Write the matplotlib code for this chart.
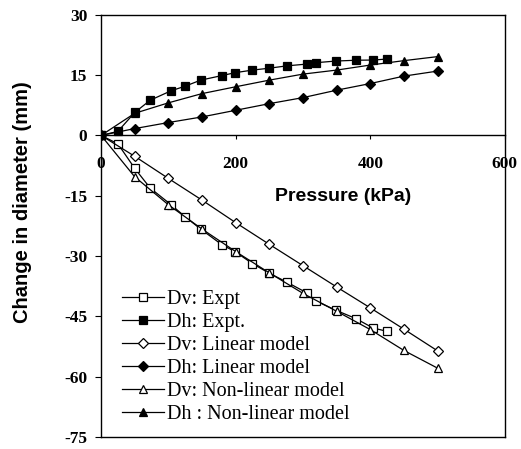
import numpy as np
import matplotlib
matplotlib.use("Agg")
import matplotlib.pyplot as plt

plt.rcParams["axes.unicode_minus"] = False

# experimental pressures (kPa) and measured diameter changes (mm)
p_expt = [0, 25, 50, 73, 104, 125, 148, 180, 199, 225, 249, 276, 306, 320, 349, 379, 404, 425]
dv_expt = [0, -2.1, -8.2, -13.1, -17.25, -20.25, -23.3, -27.25, -28.9, -31.9, -34.2,
           -36.5, -39.2, -41.25, -43.5, -45.6, -47.9, -48.75]
dh_expt = [0, 1.0, 5.7, 8.75, 11.1, 12.25, 13.75, 14.9, 15.6, 16.25, 16.7, 17.3,
           17.75, 18.1, 18.5, 18.7, 18.75, 19.0]

# model pressures and predictions
p_model = [0, 50, 100, 150, 200, 250, 300, 350, 400, 450, 500]
dv_lin = [0, -5.2, -10.7, -16.1, -21.7, -27.1, -32.4, -37.7, -42.9, -48.2, -53.6]
dh_lin = [0, 1.7, 3.2, 4.6, 6.25, 7.9, 9.4, 11.25, 12.9, 14.75, 16.0]
dv_nonlin = [0, -10.3, -17.25, -23.3, -28.9, -34.2, -39.3, -43.75, -48.3, -53.5, -57.9]
dh_nonlin = [0, 5.5, 8.1, 10.4, 12.1, 13.75, 15.25, 16.25, 17.5, 18.6, 19.6]

serif = "Liberation Serif"
sans = "Liberation Sans"

fig = plt.figure(figsize=(5.21, 4.49), dpi=100)
ax = fig.add_axes([0.194, 0.027, 0.775, 0.94])

kw = dict(color="k", lw=0.9, ms=6.3, mew=0.9)
dkw = dict(color="k", lw=0.9, ms=4.8, mew=0.9)
ax.plot(p_expt, dv_expt, "s-", mfc="white", label="Dv: Expt", **kw)
ax.plot(p_expt, dh_expt, "s-", mfc="k", label="Dh: Expt.", **kw)
ax.plot(p_model, dv_lin, "D-", mfc="white", label="Dv: Linear model", **dkw)
ax.plot(p_model, dh_lin, "D-", mfc="k", label="Dh: Linear model", **dkw)
ax.plot(p_model, dv_nonlin, "^-", mfc="white", label="Dv: Non-linear model", **kw)
ax.plot(p_model, dh_nonlin, "^-", mfc="k", label="Dh : Non-linear model", **kw)

ax.set_xlim(0, 600)
ax.set_ylim(-75, 30)
ax.set_xticks([0, 200, 400, 600])
ax.set_yticks(np.arange(-75, 31, 15))

# x axis drawn through y = 0, frame kept around the plot
ax.spines["bottom"].set_position(("data", 0))
ax.plot([0, 1], [0, 0], transform=ax.transAxes, color="k", lw=1.0, clip_on=False)
for s in ax.spines.values():
    s.set_linewidth(1.0)

ax.tick_params(axis="x", direction="out", length=3, pad=12, width=0.8)
ax.tick_params(axis="y", direction="out", length=4, pad=6, width=0.8)
for lab in ax.get_xticklabels() + ax.get_yticklabels():
    lab.set_fontfamily(serif)
    lab.set_fontweight("bold")
    lab.set_fontsize(12.5)

ax.set_xlabel("Pressure (kPa)", fontfamily=sans, fontweight="bold", fontsize=14)
ax.xaxis.set_label_coords(0.6, 0.59)
ax.set_ylabel("Change in diameter (mm)", fontfamily=sans, fontweight="bold", fontsize=14.5)
ax.yaxis.set_label_coords(-0.171, 0.557)

leg = ax.legend(loc="lower left", bbox_to_anchor=(0.052, 0.03), frameon=False,
                prop={"family": serif, "size": 14.5}, handlelength=2.1,
                handletextpad=0.15, labelspacing=0.2, borderaxespad=0, borderpad=0)

fig.savefig("out.png", dpi=100)
